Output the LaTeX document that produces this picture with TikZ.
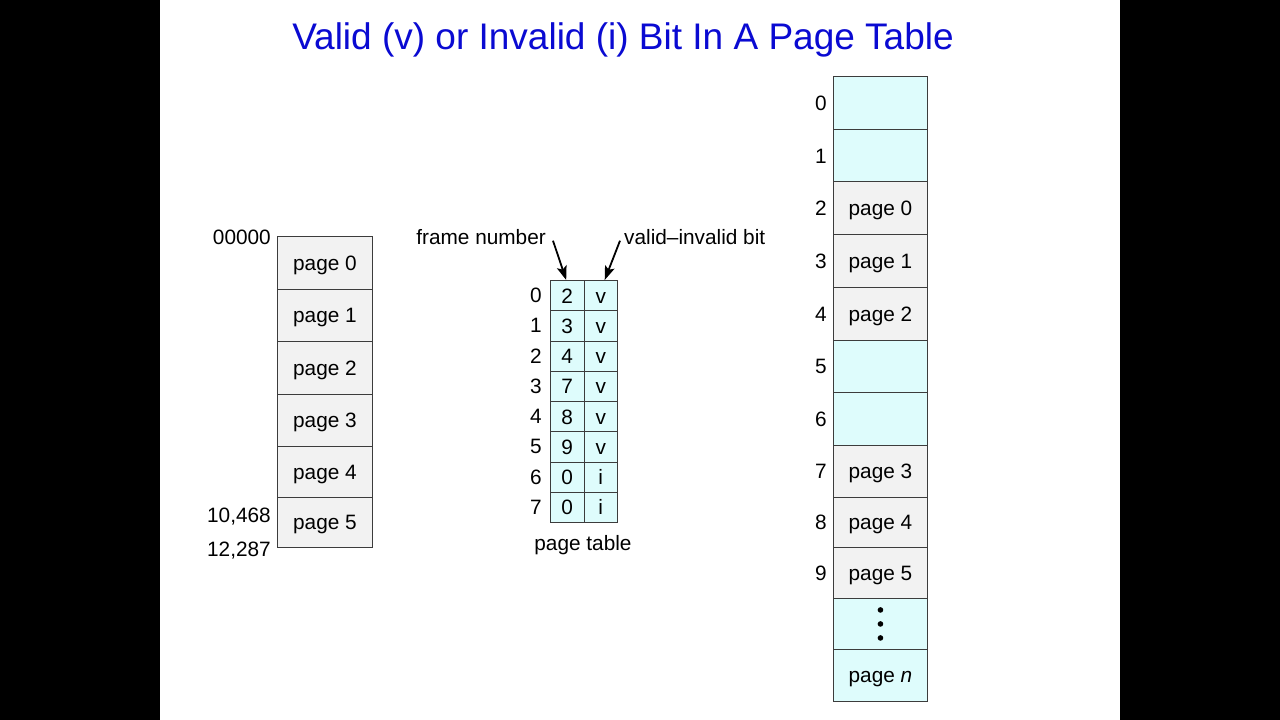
\documentclass[tikz,border=0pt]{standalone}
\usepackage{fontspec}
\setmainfont{Liberation Sans}
\usetikzlibrary{arrows.meta}
\definecolor{titleblue}{RGB}{10,10,210}
\definecolor{cellcyan}{RGB}{222,252,252}
\definecolor{cellgrey}{RGB}{242,242,242}
\definecolor{edge}{RGB}{60,60,60}
\tikzset{
  x=1pt, y=-1pt,
  txt/.style={font=\fontsize{20.8}{24}\selectfont, text height=15pt, text depth=0pt},
  lbl/.style={txt, inner sep=0pt},
  gcell/.style={txt, draw=edge, fill=cellgrey, line width=0.9pt, minimum width=95pt, anchor=north west, inner sep=0pt},
  ccell/.style={txt, draw=edge, fill=cellcyan, line width=0.9pt, minimum width=94pt, anchor=north west, inner sep=0pt},
  ptcell/.style={txt, draw=edge, fill=cellcyan, line width=0.9pt, minimum width=33.5pt, minimum height=30.25pt, anchor=north west, inner sep=0pt},
  arr/.style={-{Stealth[length=14pt,width=10pt,inset=3pt]}, line width=1.8pt, black},
}
\begin{document}
\begin{tikzpicture}
\useasboundingbox (0,0) rectangle (1280,720);
\fill[white] (0,0) rectangle (1280,720);
\fill[black] (0,0) rectangle (160,720);
\fill[black] (1120,0) rectangle (1280,720);

% title
\node[text=titleblue, font=\fontsize{37}{42}\selectfont, inner sep=0pt, text height=27pt, text depth=0pt, anchor=base] (title) at (623,49) {Valid (v) or Invalid (i) Bit In A Page Table};

% logical memory
\node[gcell, minimum height=53pt] (l0) at (277,236) {page 0};
\node[gcell, minimum height=52pt] (l1) at (277,289) {page 1};
\node[gcell, minimum height=53pt] (l2) at (277,341) {page 2};
\node[gcell, minimum height=52pt] (l3) at (277,394) {page 3};
\node[gcell, minimum height=51pt] (l4) at (277,446) {page 4};
\node[gcell, minimum height=50pt] (l5) at (277,497) {page 5};
\node[lbl, anchor=east] (a0) at (271,237) {00000};
\node[lbl, anchor=east] (a1) at (271,515) {10,468};
\node[lbl, anchor=east] (a2) at (271,549) {12,287};

% page table
\foreach \i/\f/\b in {0/2/v,1/3/v,2/4/v,3/7/v,4/8/v,5/9/v,6/0/i,7/0/i}{
  \node[ptcell] (pt\i f) at (550,{280+30.25*\i}) {\f};
  \node[ptcell] (pt\i b) at (583.5,{280+30.25*\i}) {\b};
  \node[lbl, anchor=center] (pti\i) at (536,{295+30.25*\i}) {\i};
}
\node[lbl] (ptlabel) at (583,543) {page table};
\node[lbl, anchor=east] (fn) at (546,237) {frame number};
\node[lbl, anchor=west] (vib) at (624,237) {valid–invalid bit};
\draw[arr] ([xshift=7pt,yshift=4pt]fn.south east) -- ([xshift=-1pt]pt0f.north);
\draw[arr] ([xshift=-4pt,yshift=4pt]vib.south west) -- ([xshift=4pt]pt0b.north);

% physical memory
\node[ccell, minimum height=53pt] (p0) at (833,76) {};
\node[ccell, minimum height=52pt] (p1) at (833,129) {};
\node[gcell, minimum width=94pt, minimum height=53pt] (p2) at (833,181) {page 0};
\node[gcell, minimum width=94pt, minimum height=53pt] (p3) at (833,234) {page 1};
\node[gcell, minimum width=94pt, minimum height=53pt] (p4) at (833,287) {page 2};
\node[ccell, minimum height=52pt] (p5) at (833,340) {};
\node[ccell, minimum height=53pt] (p6) at (833,392) {};
\node[gcell, minimum width=94pt, minimum height=52pt] (p7) at (833,445) {page 3};
\node[gcell, minimum width=94pt, minimum height=50pt] (p8) at (833,497) {page 4};
\node[gcell, minimum width=94pt, minimum height=51pt] (p9) at (833,547) {page 5};
\node[ccell, minimum height=51pt] (pd) at (833,598) {};
\node[ccell, minimum height=52pt] (pn) at (833,649) {page \textit{n}};
\fill (pd.center) ++(0,-14) circle (2.8pt);
\fill (pd.center) circle (2.8pt);
\fill (pd.center) ++(0,14) circle (2.8pt);
\foreach \i/\y in {0/103,1/156,2/208,3/261,4/314,5/366,6/419,7/471,8/522,9/573}{
  \node[lbl] (pi\i) at (821,\y) {\i};
}
\end{tikzpicture}
\end{document}
